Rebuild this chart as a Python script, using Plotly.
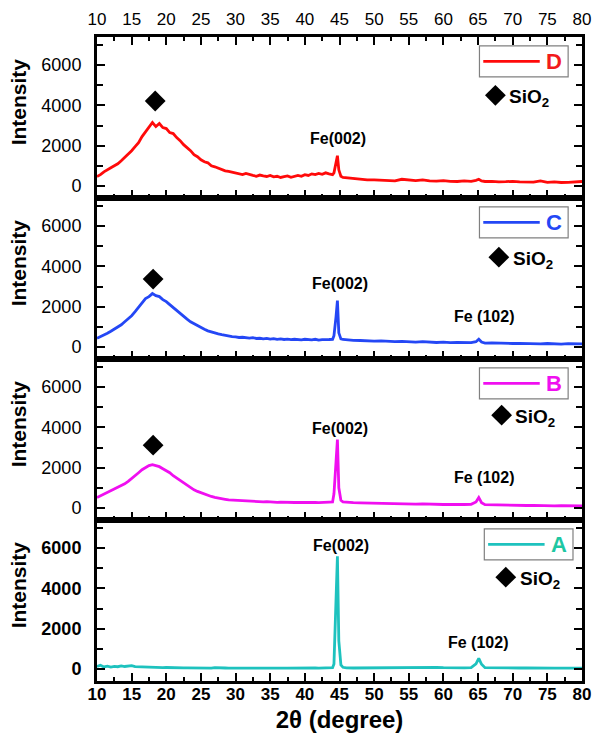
import numpy as np
import plotly.graph_objects as go
from plotly.subplots import make_subplots

# ---------------- data ----------------
two_theta = (list(np.round(np.arange(10.0, 44.01, 0.5), 2))
             + [44.2, 44.5, 44.7, 44.9, 45.2, 45.5]
             + list(np.arange(46, 65, 1.0))
             + [64.7, 65.1, 65.5]
             + list(np.arange(66, 81, 1.0)))

# segment 10..44 (step .5) -> 69 values, Fe(002) peak 6, 46..64 -> 19, Fe(102) peak 3, 66..80 -> 15
int_D = ([470, 560, 700, 780, 900, 1000, 1100, 1250, 1400, 1600, 1750, 1950, 2150, 2450, 2700, 2900,
          3150, 2950, 3100, 2900, 2850, 2650, 2600, 2400, 2250, 2050, 1900, 1750, 1550, 1450, 1300,
          1200, 1150, 1000, 950, 880, 820, 750, 720, 680, 640, 600, 560, 620, 550, 520, 480, 540, 500,
          470, 520, 450, 480, 420, 460, 500, 430, 480, 520, 480, 560, 520, 600, 560, 620, 580, 650,
          600, 560]
         + [650, 1100, 1500, 800, 480, 420]
         + [400, 380, 350, 300, 300, 280, 260, 250, 330, 280, 260, 300, 250, 240, 260, 230, 220, 250, 230]
         + [280, 330, 250]
         + [220, 230, 200, 210, 230, 200, 210, 190, 250, 180, 200, 170, 180, 200, 220])

int_C = ([430, 500, 600, 680, 780, 880, 980, 1100, 1250, 1380, 1550, 1750, 1950, 2200, 2400, 2500,
          2650, 2550, 2500, 2350, 2250, 2100, 1950, 1800, 1650, 1500, 1380, 1250, 1150, 1050, 950,
          880, 800, 740, 690, 650, 610, 570, 545, 515, 500, 470, 480, 450, 440, 460, 420, 430, 400,
          420, 390, 410, 380, 400, 370, 390, 360, 380, 370, 350, 380, 360, 350, 380, 340, 360, 350,
          370, 380]
         + [560, 1500, 2300, 700, 400, 370]
         + [350, 330, 320, 300, 290, 300, 270, 260, 280, 250, 240, 260, 230, 220, 240, 210, 220, 200, 210]
         + [260, 380, 240]
         + [190, 200, 180, 190, 170, 180, 160, 170, 150, 170, 150, 140, 160, 140, 150])

int_B = ([520, 600, 700, 760, 850, 920, 1000, 1100, 1200, 1320, 1450, 1580, 1750, 1900, 2000, 2100,
          2150, 2100, 2050, 1950, 1850, 1750, 1600, 1480, 1350, 1220, 1100, 1000, 900, 820, 750,
          680, 620, 570, 520, 480, 460, 430, 400, 390, 370, 360, 340, 350, 330, 320, 330, 310, 300,
          310, 290, 300, 280, 290, 280, 270, 290, 270, 280, 260, 270, 280, 260, 270, 260, 280, 270,
          290, 300]
         + [700, 2300, 3400, 1000, 380, 300]
         + [280, 260, 250, 240, 230, 240, 220, 210, 220, 200, 190, 200, 180, 190, 170, 180, 160, 170, 180]
         + [300, 520, 260]
         + [160, 150, 140, 150, 130, 140, 120, 130, 110, 120, 100, 110, 100, 90, 100])

int_A = ([120, 180, 100, 140, 90, 130, 110, 150, 120, 140, 160, 110, 100, 90, 80, 90,
          70, 80, 70, 60, 70, 60, 60, 50, 60, 50, 55, 50, 50, 45, 50, 45, 50, 40, 60, 45, 40, 45,
          40, 45, 40, 50, 40, 35, 45, 40, 35, 40, 45, 40, 35, 40, 45, 50, 40, 35, 40, 45, 40, 50,
          45, 40, 50, 45, 40, 45, 50, 55, 60]
         + [250, 3600, 5600, 1400, 200, 80]
         + [50, 45, 50, 45, 40, 50, 45, 40, 45, 50, 55, 70, 80, 75, 60, 50, 45, 50, 60]
         + [250, 520, 230]
         + [60, 50, 45, 50, 40, 45, 50, 40, 45, 40, 35, 40, 45, 40, 40])

sample_names = ["D", "C", "B", "A"]
series = [int_D, int_C, int_B, int_A]
line_colors = ["#FF0A0A", "#2447F5", "#F00FF0", "#1EC2BE"]
letter_colors = ["#F21B1B", "#2447F5", "#F00FF0", "#1EC7A2"]

x_ticks = list(range(10, 81, 5))
y_ticks = [0, 2000, 4000, 6000]

# annotation positions (data units)
sio2_peak_pos = [(18.4, 4220), (18.1, 3370), (18.1, 3120), None]
sio2_leg_pos = [(67.5, 4500), (68.0, 4460), (68.4, 4610), (69.0, 4560)]
fe002_pos = [(44.8, 2350), (45.0, 3150), (45.0, 3950), (45.2, 6150)]
fe102_pos = [None, (65.8, 1500), (65.8, 1500), (65.0, 1300)]
legend_box_x = [(65.2, 78.0), (65.2, 78.0), (65.2, 78.0), (65.9, 78.7)]

FONT = "Liberation Sans, Arial, sans-serif"

fig = make_subplots(rows=4, cols=1, vertical_spacing=0)

for i, (name, vals, col) in enumerate(zip(sample_names, series, line_colors)):
    r = i + 1
    fig.add_trace(go.Scatter(x=two_theta, y=vals, mode="lines", name=name,
                             line=dict(color=col, width=2.8), showlegend=False),
                  row=r, col=1)
    mx, my = [], []
    if sio2_peak_pos[i]:
        mx.append(sio2_peak_pos[i][0]); my.append(sio2_peak_pos[i][1])
    mx.append(sio2_leg_pos[i][0]); my.append(sio2_leg_pos[i][1])
    fig.add_trace(go.Scatter(x=mx, y=my, mode="markers", showlegend=False,
                             marker=dict(symbol="diamond", size=16, color="black")),
                  row=r, col=1)

# invisible trace for top axis
fig.add_trace(go.Scatter(x=[10, 80], y=[-600, -600], mode="markers", marker=dict(opacity=0),
                         showlegend=False, hoverinfo="skip", xaxis="x5", yaxis="y"))

for i in range(4):
    r = i + 1
    fig.update_xaxes(row=r, col=1, range=[10, 80], tickvals=x_ticks, ticks="inside", ticklen=8,
                     tickwidth=2.2, tickcolor="black", showline=True, linewidth=3, linecolor="black",
                     mirror=True, showgrid=False, zeroline=False, automargin=False,
                     showticklabels=(r == 4), ticklabelstandoff=-4,
                     tickfont=dict(family=FONT, size=17, color="black", weight="bold"),
                     minor=dict(dtick=2.5, tick0=10, ticks="inside", ticklen=4, tickwidth=2,
                                tickcolor="black"))
    fig.update_yaxes(row=r, col=1, range=[-600, 7400], tickvals=y_ticks, ticks="inside", ticklen=8,
                     tickwidth=2.2, tickcolor="black", showline=True, linewidth=3, linecolor="black",
                     mirror="ticks", showgrid=False, zeroline=False, automargin=False,
                     ticklabelstandoff=9,
                     tickfont=dict(family=FONT, size=18, color="black",
                                   weight=("bold" if r == 4 else "normal")),
                     minor=dict(dtick=1000, tick0=0, ticks="inside", ticklen=6, tickwidth=2,
                                tickcolor="black"))

fig.update_xaxes(row=4, col=1, title=dict(text="<b>2θ (degree)</b>",
                                          font=dict(family=FONT, size=24, color="black"), standoff=8))

fig.update_layout(xaxis5=dict(overlaying="x", anchor="y", side="top", range=[10, 80],
                              tickvals=x_ticks, ticks="inside", ticklen=8, tickwidth=2.2,
                              tickcolor="black", showgrid=False, zeroline=False, showline=False,
                              automargin=False, ticklabelstandoff=8,
                              tickfont=dict(family=FONT, size=17, color="black"),
                              minor=dict(dtick=2.5, tick0=10, ticks="inside", ticklen=4, tickwidth=2,
                                         tickcolor="black")))

for i in range(4):
    r = i + 1
    xr = "x" if r == 1 else f"x{r}"
    yr = "y" if r == 1 else f"y{r}"
    fig.add_annotation(xref="paper", yref=f"{yr} domain", x=-0.163, y=0.6, xanchor="center",
                       yanchor="middle", textangle=-90, text="<b>Intensity</b>", showarrow=False,
                       font=dict(family=FONT, size=21, color="black"))
    x0, x1 = legend_box_x[i]
    fig.add_shape(type="rect", xref=xr, yref=yr, x0=x0, x1=x1, y0=5420, y1=6960,
                  line=dict(color="#808080", width=1.2), fillcolor="white", layer="above")
    fig.add_shape(type="line", xref=xr, yref=yr, x0=x0 + 0.55, x1=x0 + 8.7, y0=6190, y1=6190,
                  line=dict(color=line_colors[i], width=2.6), layer="above")
    fig.add_annotation(xref=xr, yref=yr, x=x0 + 10.8, y=6190, text=f"<b>{sample_names[i]}</b>",
                       showarrow=False, font=dict(family=FONT, size=22, color=letter_colors[i]))
    sx, sy = sio2_leg_pos[i]
    fig.add_annotation(xref=xr, yref=yr, x=sx + 1.7, y=sy - 150, xanchor="left", yanchor="middle",
                       text="<b>SiO<sub>2</sub></b>", showarrow=False,
                       font=dict(family=FONT, size=19, color="black"))
    fx, fy = fe002_pos[i]
    fig.add_annotation(xref=xr, yref=yr, x=fx, y=fy, text="<b>Fe(002)</b>", showarrow=False,
                       font=dict(family=FONT, size=16, color="black"))
    if fe102_pos[i]:
        gx, gy = fe102_pos[i]
        fig.add_annotation(xref=xr, yref=yr, x=gx, y=gy, text="<b>Fe (102)</b>", showarrow=False,
                           font=dict(family=FONT, size=16, color="black"))

fig.update_layout(width=597, height=744, margin=dict(l=97, r=15, t=37, b=63),
                  plot_bgcolor="white", paper_bgcolor="white",
                  font=dict(family=FONT, color="black"), showlegend=False)

fig.write_html("out.html", config={"displayModeBar": False},
               post_script="document.body.style.margin='0';")
